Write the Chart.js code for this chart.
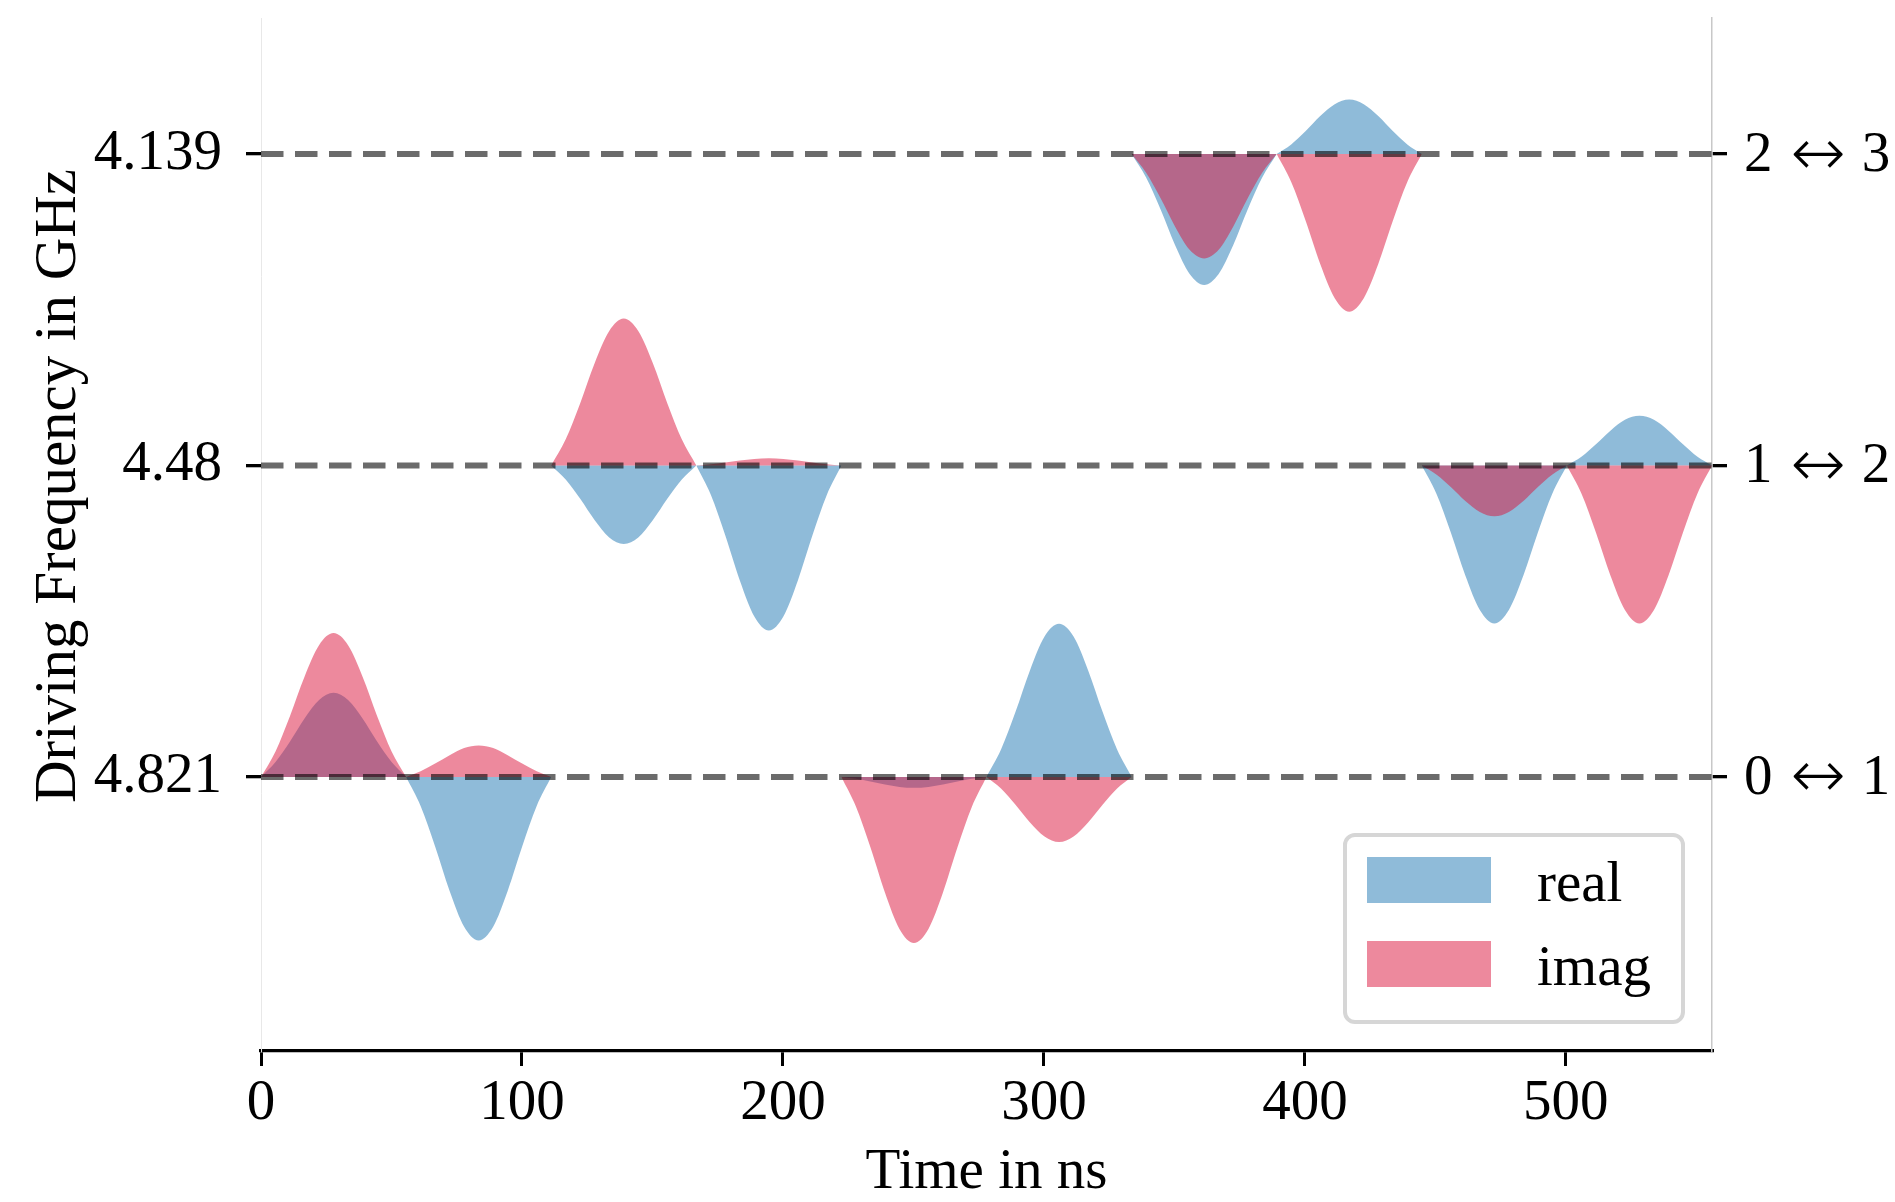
<!DOCTYPE html>
<html>
<head>
<meta charset="utf-8">
<script src="https://cdn.jsdelivr.net/npm/chart.js@4.4.0/dist/chart.umd.min.js"></script>
<style>
  html, body { margin: 0; padding: 0; background: #fff; }
</style>
</head>
<body>
<canvas id="pulses" width="1895" height="1202"></canvas>
<script>
// level 0 is drawn at the bottom, level 2 at the top
const levels = [0, 1, 2];
const levelFreqLabels = ['4.821', '4.48', '4.139'];
const transitionLabels = ['0 \u2194 1', '1 \u2194 2', '2 \u2194 3'];
const xTickValues = [0, 100, 200, 300, 400, 500];
const xMax = 556;

// each pulse: start time (ns), level it sits on
const pulseStart = [0, 55.6, 111.2, 166.8, 222.4, 278, 333.6, 389.2, 444.8, 500.4];
const pulseLevel = [0, 0, 1, 1, 0, 0, 2, 2, 1, 1];
const sampleOffset = [0, 5.56, 11.12, 16.68, 22.24, 27.8, 33.36, 38.92, 44.48, 50.04, 55.6];

// amplitudes, relative to the pulse's level
const realPulses = [
  [0, 0.048, 0.114, 0.188, 0.247, 0.270, 0.247, 0.188, 0.114, 0.048, 0],
  [0, -0.093, -0.223, -0.366, -0.481, -0.525, -0.481, -0.366, -0.223, -0.093, 0],
  [0, -0.045, -0.107, -0.176, -0.231, -0.252, -0.231, -0.176, -0.107, -0.045, 0],
  [0, -0.094, -0.225, -0.369, -0.485, -0.530, -0.485, -0.369, -0.225, -0.094, 0],
  [0, -0.006, -0.015, -0.024, -0.032, -0.035, -0.032, -0.024, -0.015, -0.006, 0],
  [0, 0.088, 0.209, 0.343, 0.451, 0.492, 0.451, 0.343, 0.209, 0.088, 0],
  [0, -0.075, -0.178, -0.293, -0.385, -0.420, -0.385, -0.293, -0.178, -0.075, 0],
  [0, 0.031, 0.074, 0.122, 0.160, 0.175, 0.160, 0.122, 0.074, 0.031, 0],
  [0, -0.090, -0.215, -0.353, -0.464, -0.507, -0.464, -0.353, -0.215, -0.090, 0],
  [0, 0.028, 0.068, 0.112, 0.147, 0.160, 0.147, 0.112, 0.068, 0.028, 0]
];
const imagPulses = [
  [0, 0.082, 0.196, 0.322, 0.423, 0.462, 0.423, 0.322, 0.196, 0.082, 0],
  [0, 0.018, 0.043, 0.070, 0.093, 0.101, 0.093, 0.070, 0.043, 0.018, 0],
  [0, 0.084, 0.200, 0.329, 0.432, 0.472, 0.432, 0.329, 0.200, 0.084, 0],
  [0, 0.004, 0.010, 0.016, 0.021, 0.023, 0.021, 0.016, 0.010, 0.004, 0],
  [0, -0.095, -0.226, -0.371, -0.488, -0.533, -0.488, -0.371, -0.226, -0.095, 0],
  [0, -0.037, -0.089, -0.146, -0.191, -0.209, -0.191, -0.146, -0.089, -0.037, 0],
  [0, -0.060, -0.142, -0.233, -0.307, -0.335, -0.307, -0.233, -0.142, -0.060, 0],
  [0, -0.090, -0.215, -0.353, -0.463, -0.506, -0.463, -0.353, -0.215, -0.090, 0],
  [0, -0.029, -0.069, -0.114, -0.149, -0.163, -0.149, -0.114, -0.069, -0.029, 0],
  [0, -0.090, -0.215, -0.353, -0.464, -0.507, -0.464, -0.353, -0.215, -0.090, 0]
];

const seriesNames = ['real', 'imag'];
const seriesColors = ['rgba(31,119,180,0.5)', 'rgba(220,20,60,0.5)'];

const SERIF = '"Liberation Serif", "DejaVu Serif", serif';
const FONT = { family: SERIF, size: 57 };

function pulseDatasets(pulses, name, color, order) {
  return pulses.map((vals, i) => ({
    label: name,
    data: sampleOffset.map((o, k) => ({ x: pulseStart[i] + o, y: pulseLevel[i] + vals[k] })),
    fill: { value: pulseLevel[i] },
    backgroundColor: color,
    borderColor: 'rgba(0,0,0,0)',
    borderWidth: 0,
    pointRadius: 0,
    cubicInterpolationMode: 'monotone',
    order
  }));
}

const levelLines = levels.map(l => ({
  label: '',
  data: [{ x: 0, y: l }, { x: xMax, y: l }],
  borderColor: 'rgba(0,0,0,0.58)',
  borderWidth: 6,
  borderDash: [22.5, 11.5],
  pointRadius: 0,
  fill: false,
  order: 0
}));

const datasets = [
  ...pulseDatasets(realPulses, seriesNames[0], seriesColors[0], 2),
  ...pulseDatasets(imagPulses, seriesNames[1], seriesColors[1], 1),
  ...levelLines
];

const cornerLegend = {
  id: 'cornerLegend',
  afterDraw(chart) {
    const { ctx, chartArea } = chart;
    const w = 338, h = 187, inset = 29;
    const left = chartArea.right - inset - w;
    const top = chartArea.bottom - inset - h;
    ctx.save();
    ctx.beginPath();
    ctx.roundRect(left, top, w, h, 10);
    ctx.fillStyle = 'rgba(255,255,255,0.8)';
    ctx.fill();
    ctx.lineWidth = 4;
    ctx.strokeStyle = '#d6d6d6';
    ctx.stroke();
    ctx.font = `${FONT.size}px ${SERIF}`;
    ctx.textBaseline = 'alphabetic';
    ctx.textAlign = 'left';
    seriesNames.forEach((name, i) => {
      const cy = top + 45 + i * 84;
      ctx.fillStyle = seriesColors[i];
      ctx.fillRect(left + 22, cy - 23, 124, 46);
      ctx.fillStyle = '#000';
      ctx.fillText(name, left + 192, cy + 21);
    });
    ctx.restore();
  }
};

const yTitle = {
  id: 'yTitle',
  afterDraw(chart) {
    const { ctx } = chart;
    ctx.save();
    ctx.translate(75, 486);
    ctx.rotate(-Math.PI / 2);
    ctx.font = `59px ${SERIF}`;
    ctx.fillStyle = '#000';
    ctx.textAlign = 'center';
    ctx.textBaseline = 'alphabetic';
    ctx.fillText('Driving Frequency in GHz', 0, 0);
    ctx.restore();
  }
};

// right-hand transition labels, drawn with a wide, thin arrow glyph
const transitionTicks = {
  id: 'transitionTicks',
  afterDraw(chart) {
    const { ctx } = chart;
    const scale = chart.scales.y2;
    ctx.save();
    ctx.fillStyle = '#000';
    ctx.textAlign = 'left';
    levels.forEach((lv, i) => {
      const y = scale.getPixelForValue(lv);
      const [a, b] = transitionLabels[i].split(' \u2194 ');
      let x = scale.left + 15 + 17;
      ctx.font = `${FONT.size}px ${SERIF}`;
      ctx.textBaseline = 'middle';
      ctx.fillText(a, x, y + 2);
      x += ctx.measureText(a).width + 18;
      ctx.font = `200 66px "DejaVu Sans", sans-serif`;
      ctx.textBaseline = 'alphabetic';
      const m = ctx.measureText('\u2194');
      const off = (m.actualBoundingBoxAscent - m.actualBoundingBoxDescent) / 2;
      ctx.fillText('\u2194', x, y + off);
      x += m.width + 16;
      ctx.font = `${FONT.size}px ${SERIF}`;
      ctx.textBaseline = 'middle';
      ctx.fillText(b, x, y + 2);
    });
    ctx.restore();
  }
};

const yMin = -0.88, yMax = 2.437;

function noPad(s) {
  s.paddingTop = 0; s.paddingBottom = 0; s.paddingLeft = 0; s.paddingRight = 0;
}

new Chart(document.getElementById('pulses'), {
  type: 'line',
  data: { datasets },
  options: {
    responsive: false,
    animation: false,
    devicePixelRatio: 1,
    layout: { padding: { top: 18, left: 0, right: 0, bottom: 0 } },
    plugins: { legend: { display: false }, tooltip: { enabled: false } },
    scales: {
      x: {
        type: 'linear', min: 0, max: xMax,
        afterBuildTicks: s => { s.ticks = xTickValues.map(v => ({ value: v })); },
        afterFit: s => { s.height = 151; noPad(s); },
        ticks: { font: FONT, color: '#000', padding: 4, maxRotation: 0 },
        grid: { drawOnChartArea: false, color: '#000', lineWidth: 3, tickLength: 15 },
        border: { color: '#000', width: 3.3 },
        title: { display: true, text: 'Time in ns', color: '#000',
                 font: { ...FONT, lineHeight: 1 }, padding: { top: 0, bottom: 0 } }
      },
      y: {
        type: 'linear', position: 'left', min: yMin, max: yMax,
        afterBuildTicks: s => { s.ticks = levels.map(v => ({ value: v })); },
        afterFit: s => { s.width = 261; noPad(s); },
        ticks: { font: FONT, color: '#000', padding: 24,
                 callback: v => levelFreqLabels[levels.indexOf(v)] },
        grid: { drawOnChartArea: false, color: '#000', lineWidth: 3.3, tickLength: 15 },
        border: { color: '#e8e8e8', width: 1 }
      },
      y2: {
        type: 'linear', position: 'right', min: yMin, max: yMax,
        afterBuildTicks: s => { s.ticks = levels.map(v => ({ value: v })); },
        afterFit: s => { s.width = 183; noPad(s); },
        ticks: { font: FONT, color: '#000', padding: 17, callback: () => '' },
        grid: { drawOnChartArea: false, color: '#000', lineWidth: 3.3, tickLength: 15 },
        border: { color: '#c8c8c8', width: 1.5 }
      }
    }
  },
  plugins: [cornerLegend, yTitle, transitionTicks]
});
</script>
</body>
</html>
